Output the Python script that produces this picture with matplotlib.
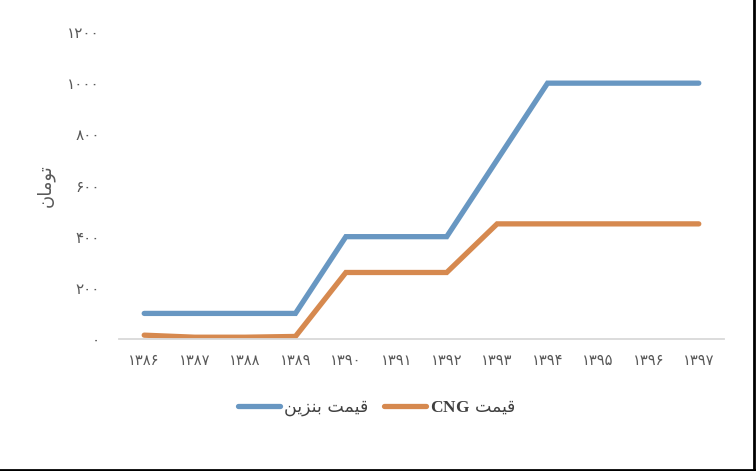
import matplotlib
matplotlib.use("Agg")
import matplotlib.pyplot as plt
from matplotlib.lines import Line2D

plt.rcParams["mathtext.fontset"] = "custom"
plt.rcParams["mathtext.bf"] = "Liberation Serif:bold"
plt.rcParams["mathtext.rm"] = "Liberation Serif"

years = ["۱۳۸۶", "۱۳۸۷", "۱۳۸۸", "۱۳۸۹", "۱۳۹۰", "۱۳۹۱",
         "۱۳۹۲", "۱۳۹۳", "۱۳۹۴", "۱۳۹۵", "۱۳۹۶", "۱۳۹۷"]
petrol = [100, 100, 100, 100, 400, 400, 400, 700, 1000, 1000, 1000, 1000]
cng = [15, 7, 7, 10, 260, 260, 260, 450, 450, 450, 450, 450]
yticks = [0, 200, 400, 600, 800, 1000, 1200]
ytick_labels = ["۰", "۲۰۰", "۴۰۰", "۶۰۰", "۸۰۰", "۱۰۰۰", "۱۲۰۰"]
# Arabic presentation forms in visual (left-to-right) order
ylabel = "\uFEE5\uFE8E\uFEE3\uFEEE\uFE97"            # تومان
label_petrol = "\uFEE6\uFEF3\uFEB0\uFEE8\uFE91 \uFE96\uFEE4\uFEF4\uFED7"  # قیمت بنزین
label_cng = r"$\mathbf{CNG}$ " + "\uFE96\uFEE4\uFEF4\uFED7"           # قیمت CNG

blue = "#6897C2"
orange = "#D6894F"
grey = "#595959"

fig = plt.figure(figsize=(7.56, 4.71), dpi=100)
ax = fig.add_axes([119/756, 1 - 339/471, (724 - 119)/756, (339 - 32)/471])

x = list(range(len(years)))
ax.plot(x, petrol, color=blue, lw=3.8, solid_capstyle="round", solid_joinstyle="miter", label=label_petrol)
ax.plot(x, cng, color=orange, lw=3.8, solid_capstyle="round", solid_joinstyle="miter", label=label_cng)

ax.set_xlim(-0.5, len(years) - 0.5)
ax.set_ylim(0, 1200)
ax.set_xticks(x)
ax.set_xticklabels(years, fontsize=10.5, color=grey, family=["DejaVu Sans"])
ax.set_yticks(yticks)
ax.set_yticklabels(ytick_labels, fontsize=11, color=grey, family=["DejaVu Sans"])
ax.tick_params(axis="both", length=0)
ax.tick_params(axis="y", pad=14)
ax.tick_params(axis="x", pad=10)
for s in ["top", "right", "left"]:
    ax.spines[s].set_visible(False)
ax.spines["bottom"].set_color("#D9D9D9")
ax.spines["bottom"].set_linewidth(1.3)

fig.text(45/756, 1 - 186/471, ylabel, rotation=90, ha="center", va="center",
         fontsize=13, color=grey, family=["DejaVu Sans"])

leg = fig.legend(loc="center", bbox_to_anchor=(377/756, 1 - 407/471), ncol=2, frameon=False,
                 handlelength=2.4, handletextpad=0.25, columnspacing=0.9,
                 prop={"family": ["DejaVu Sans"], "size": 12.5})
for t in leg.get_texts():
    t.set_color("#404040")

# image border on right and bottom
fig.add_artist(Line2D([0, 1], [0.003, 0.003], transform=fig.transFigure, color="black", lw=2))
fig.add_artist(Line2D([0.998, 0.998], [0, 1], transform=fig.transFigure, color="black", lw=2))

fig.savefig("out.png", dpi=100, facecolor="white")
